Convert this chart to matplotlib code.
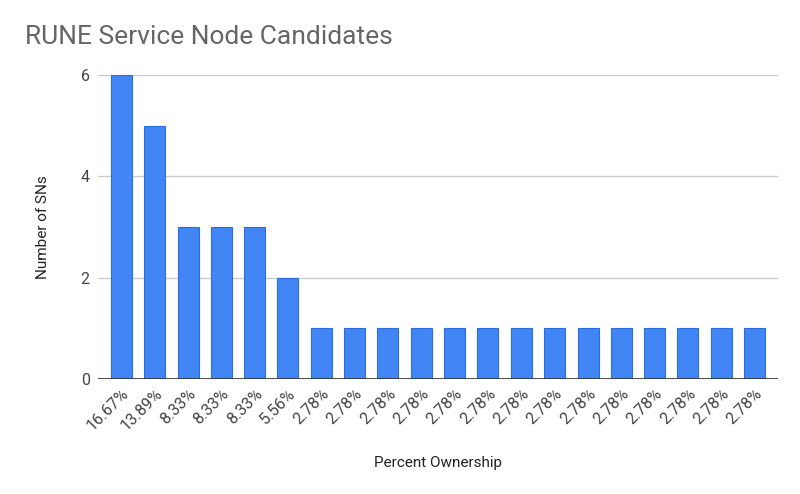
import matplotlib
matplotlib.use("Agg")
import matplotlib.pyplot as plt

# ----------------------------------------
# DATA
# ----------------------------------------
labels = ["16.67%", "13.89%", "8.33%", "8.33%", "8.33%", "5.56%"] + ["2.78%"] * 14
counts = [6, 5, 3, 3, 3, 2] + [1] * 14

plt.rcParams["font.family"] = ["Roboto", "DejaVu Sans"]

# ----------------------------------------
# PLOT
# ----------------------------------------
fig = plt.figure(figsize=(8, 4.94), dpi=100)
ax = fig.add_axes([0.1225, 0.2328, 0.85, 0.6152])

x = list(range(len(counts)))
ax.bar(x, counts, width=0.63, color="#4285F4", edgecolor="#2a6de0", linewidth=0.8, zorder=3)

ax.set_xlim(-0.7, len(counts) - 0.3)
ax.set_ylim(0, 6)
ax.set_yticks([0, 2, 4, 6])
ax.yaxis.grid(True, color="#cccccc", linewidth=1, zorder=0)
ax.axhline(0, color="#333333", linewidth=1.2, zorder=4)

for s in ax.spines.values():
    s.set_visible(False)
ax.tick_params(axis="both", length=0, colors="#444444", labelsize=11.5)
ax.tick_params(axis="y", pad=6)
ax.tick_params(axis="x", pad=5)

ax.set_xticks(x)
ax.set_xticklabels(labels, rotation=45, ha="right", rotation_mode="anchor")

ax.set_ylabel("Number of SNs", fontsize=11, color="#222222", labelpad=22)
ax.set_xlabel("Percent Ownership", fontsize=11, color="#222222", labelpad=16)

fig.text(0.031, 0.91, "RUNE Service Node Candidates", fontsize=19, color="#666666")

fig.savefig("out.png", dpi=100)
